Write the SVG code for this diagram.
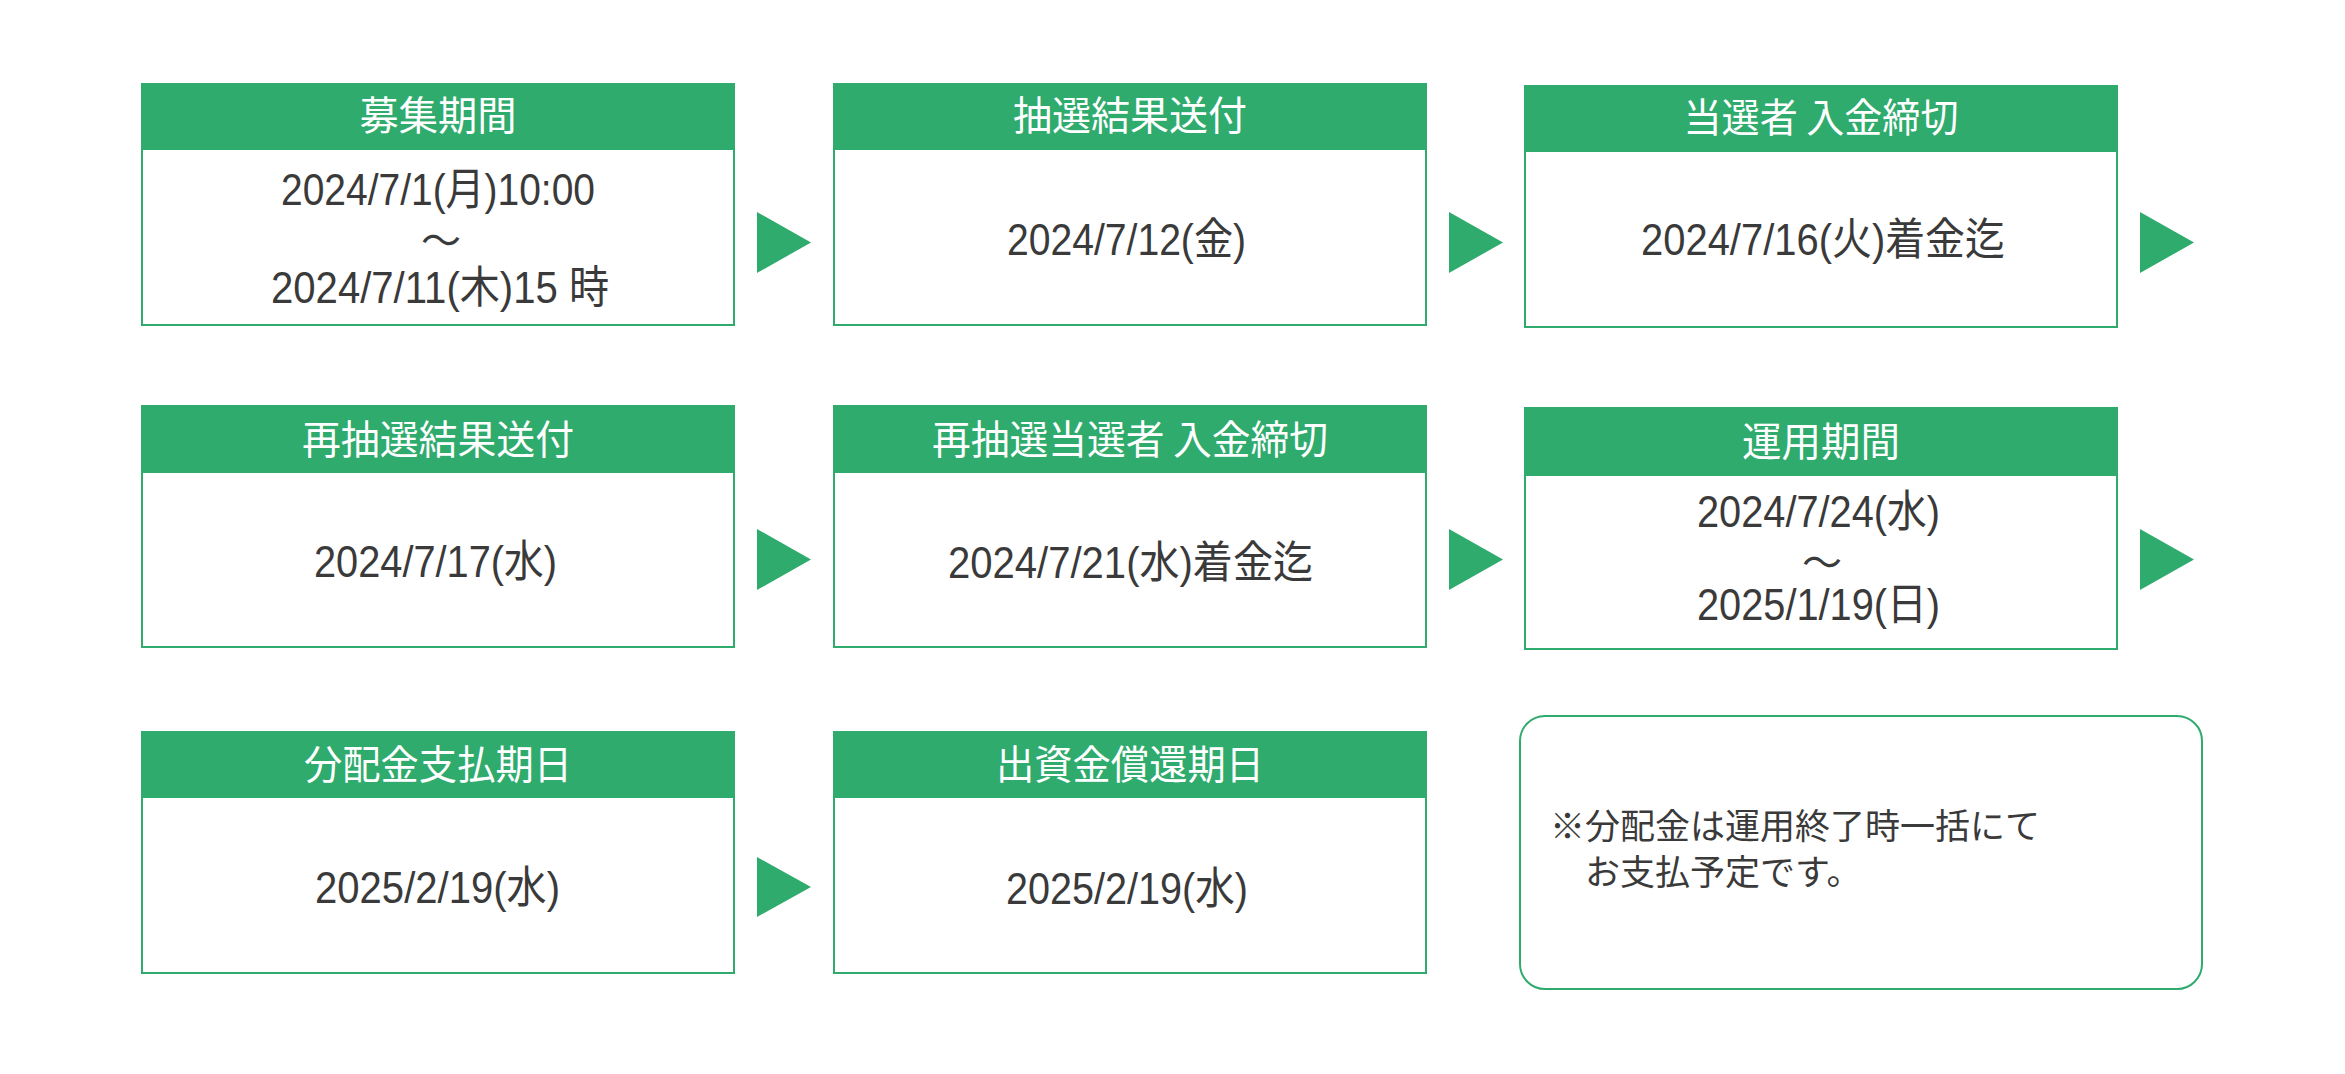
<svg xmlns="http://www.w3.org/2000/svg" width="2345" height="1074" viewBox="0 0 2345 1074">
<style>
.box{fill:#fff;stroke:#2eab6d;stroke-width:2}
.hdr{fill:#2eab6d}
.ht{fill:#fff;font-family:"Noto Sans CJK JP",sans-serif;font-size:40px;text-anchor:middle}
.bt{fill:#3a3a3a;font-family:"Liberation Sans","Noto Sans CJK JP",sans-serif;font-size:44px}
.tl{font-family:"Noto Sans CJK JP",sans-serif;font-size:40px}
.nt{fill:#3a3a3a;font-family:"Noto Sans CJK JP",sans-serif;font-size:35px}
.arr{fill:#2eab6d}
</style>
<rect width="2345" height="1074" fill="#fff"/>

<g id="n1">
<rect class="box" x="142" y="84" width="592" height="241"/>
<rect class="hdr" x="141" y="83" width="594" height="67"/>
<text class="ht" x="438" y="130" textLength="157" lengthAdjust="spacingAndGlyphs">募集期間</text>
<text class="bt"><tspan x="281" y="205" textLength="314" lengthAdjust="spacingAndGlyphs">2024/7/1(月)10:00</tspan><tspan class="tl" x="421" y="255">〜</tspan><tspan x="271" y="303" textLength="338" lengthAdjust="spacingAndGlyphs">2024/7/11(木)15 時</tspan></text>
</g>

<g id="n2">
<rect class="box" x="834" y="84" width="592" height="241"/>
<rect class="hdr" x="833" y="83" width="594" height="67"/>
<text class="ht" x="1130" y="130" textLength="234" lengthAdjust="spacingAndGlyphs">抽選結果送付</text>
<text class="bt" x="1007" y="255" textLength="239" lengthAdjust="spacingAndGlyphs">2024/7/12(金)</text>
</g>

<g id="n3">
<rect class="box" x="1525" y="86" width="592" height="241"/>
<rect class="hdr" x="1524" y="85" width="594" height="67"/>
<text class="ht" x="1821" y="132" textLength="275" lengthAdjust="spacingAndGlyphs">当選者 入金締切</text>
<text class="bt" x="1641" y="255" textLength="364" lengthAdjust="spacingAndGlyphs">2024/7/16(火)着金迄</text>
</g>

<g id="n4">
<rect class="box" x="142" y="406" width="592" height="241"/>
<rect class="hdr" x="141" y="405" width="594" height="68"/>
<text class="ht" x="438" y="454" textLength="272" lengthAdjust="spacingAndGlyphs">再抽選結果送付</text>
<text class="bt" x="314" y="577" textLength="243" lengthAdjust="spacingAndGlyphs">2024/7/17(水)</text>
</g>

<g id="n5">
<rect class="box" x="834" y="406" width="592" height="241"/>
<rect class="hdr" x="833" y="405" width="594" height="68"/>
<text class="ht" x="1130" y="454" textLength="396" lengthAdjust="spacingAndGlyphs">再抽選当選者 入金締切</text>
<text class="bt" x="948" y="578" textLength="365" lengthAdjust="spacingAndGlyphs">2024/7/21(水)着金迄</text>
</g>

<g id="n6">
<rect class="box" x="1525" y="408" width="592" height="241"/>
<rect class="hdr" x="1524" y="407" width="594" height="69"/>
<text class="ht" x="1821" y="456" textLength="158" lengthAdjust="spacingAndGlyphs">運用期間</text>
<text class="bt"><tspan x="1697" y="527" textLength="243" lengthAdjust="spacingAndGlyphs">2024/7/24(水)</tspan><tspan class="tl" x="1802" y="577">〜</tspan><tspan x="1697" y="620" textLength="243" lengthAdjust="spacingAndGlyphs">2025/1/19(日)</tspan></text>
</g>

<g id="n7">
<rect class="box" x="142" y="732" width="592" height="241"/>
<rect class="hdr" x="141" y="731" width="594" height="67"/>
<text class="ht" x="438" y="779" textLength="268" lengthAdjust="spacingAndGlyphs">分配金支払期日</text>
<text class="bt" x="315" y="903" textLength="245" lengthAdjust="spacingAndGlyphs">2025/2/19(水)</text>
</g>

<g id="n8">
<rect class="box" x="834" y="732" width="592" height="241"/>
<rect class="hdr" x="833" y="731" width="594" height="67"/>
<text class="ht" x="1130" y="779" textLength="268" lengthAdjust="spacingAndGlyphs">出資金償還期日</text>
<text class="bt" x="1006" y="904" textLength="242" lengthAdjust="spacingAndGlyphs">2025/2/19(水)</text>
</g>

<g id="note">
<rect x="1520" y="716" width="682" height="273" rx="25" ry="25" fill="#fff" stroke="#2eab6d" stroke-width="2"/>
<text class="nt"><tspan x="1550" y="839">※分配金は運用終了時一括にて</tspan><tspan x="1585" y="885">お支払予定です。</tspan></text>
</g>

<g id="connectors">
<polygon class="arr" points="757,212 811,242.5 757,273"/>
<polygon class="arr" points="1449,212 1503,242.5 1449,273"/>
<polygon class="arr" points="2140,212 2194,242.5 2140,273"/>
<polygon class="arr" points="757,529 811,559.5 757,590"/>
<polygon class="arr" points="1449,529 1503,559.5 1449,590"/>
<polygon class="arr" points="2140,529 2194,559.5 2140,590"/>
<polygon class="arr" points="757,857 811,887 757,917"/>
</g>
</svg>
